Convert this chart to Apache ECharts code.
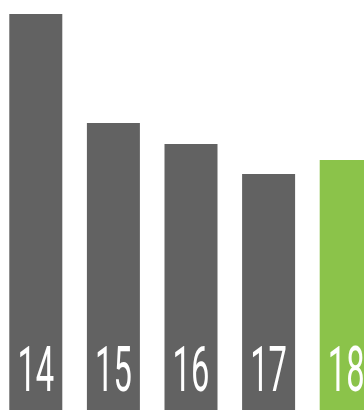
<!DOCTYPE html>
<html>
<head>
<meta charset="utf-8">
<title>bars</title>
<script src="https://cdn.jsdelivr.net/npm/echarts@6/dist/echarts.min.js"></script>
<style>
  html, body { margin: 0; padding: 0; background: #fff; overflow: hidden; }
  /* chart is a bit wider than the window: last bar runs off the right edge */
  #chart { width: 388px; height: 410px; margin-left: -3px; }
</style>
</head>
<body>
<div id="chart"></div>
<script>
// categories (shown as labels inside the bars)
var categories = ["14", "15", "16", "17", "18"];
// bar heights
var values = [396, 287, 266, 236, 250];
// last bar is highlighted
var highlightIndex = 4;

var grey = "#626262";
var green = "#8bc34a";

var myChart = echarts.init(document.getElementById("chart"));

var seriesData = values.map(function (v, i) {
  return {
    value: v,
    itemStyle: { color: i === highlightIndex ? green : grey }
  };
});

myChart.setOption({
  animation: false,
  grid: { left: 0, right: 0, top: 0, bottom: 0 },
  xAxis: {
    type: "category",
    data: categories,
    show: false
  },
  yAxis: {
    type: "value",
    min: 0,
    max: 410,
    show: false
  },
  series: [
    {
      type: "bar",
      data: seriesData,
      barWidth: 53
    }
  ]
});

// labels: tall condensed numbers at each bar's foot, placed through the axis scale
var labels = categories.map(function (c, i) {
  var pt = myChart.convertToPixel({ seriesIndex: 0 }, [i, 0]);
  return {
    type: "text",
    x: pt[0],
    y: pt[1] - 34.5,
    scaleX: 0.52,
    silent: true,
    z: 100,
    style: {
      text: c,
      fill: "#fff",
      font: "400 63px Roboto, sans-serif",
      align: "center",
      verticalAlign: "middle"
    }
  };
});
myChart.setOption({ graphic: { elements: labels } });
</script>
</body>
</html>
